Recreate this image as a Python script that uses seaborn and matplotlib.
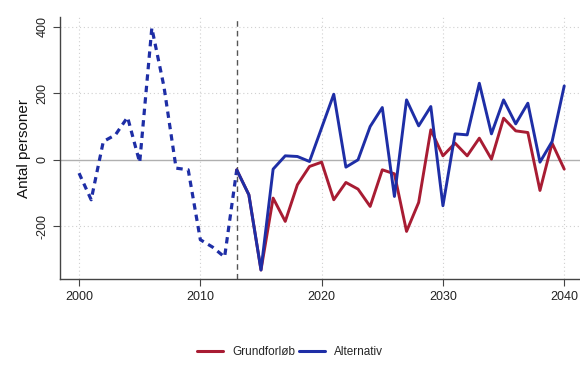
import numpy as np
import pandas as pd
import matplotlib
matplotlib.use("Agg")
import matplotlib.pyplot as plt
import seaborn as sns

# historical (dashed) series
hist_years = list(range(2000, 2014))
hist_values = [-40, -120, 55, 75, 128, -8, 396, 220, -25, -30, -240, -262, -292, -30]

# projections
proj_years = list(range(2013, 2041))
grund_values = [-30, -105, -331, -115, -185, -75, -20, -7, -120, -68, -88, -140,
                -30, -42, -215, -128, 90, 12, 50, 12, 65, 2, 125, 87, 82, -92, 50, -28]
alt_values = [-30, -105, -331, -28, 12, 10, -5, 96, 197, -22, 0, 100,
              157, -110, 180, 102, 160, -138, 78, 75, 230, 78, 180, 108, 170, -7, 55, 222]

series_names = ["Grundforløb", "Alternativ"]
colors = ["#A81C33", "#1E2EA6"]

sns.set_style("white")
plt.rcParams["font.family"] = ["Liberation Sans", "DejaVu Sans"]

proj = pd.DataFrame({
    "year": proj_years * 2,
    "value": grund_values + alt_values,
    "serie": [series_names[0]] * len(proj_years) + [series_names[1]] * len(proj_years),
})
hist = pd.DataFrame({"year": hist_years, "value": hist_values})

fig = plt.figure(figsize=(5.8, 3.72), dpi=100)
ax = fig.add_axes([60 / 580, 93 / 372, 520 / 580, 262 / 372])

for v in [-200, 200, 400]:
    ax.axhline(v, color="#d0d0d0", lw=0.8, ls=(0, (1, 2.5)), zorder=0)
for v in [2000, 2010, 2020, 2030, 2040]:
    ax.axvline(v, color="#d0d0d0", lw=0.8, ls=(0, (1, 2.5)), zorder=0)
ax.axhline(0, color="#b0b0b0", lw=1.0, zorder=1)
ax.axvline(2013, color="#555555", lw=1.0, ls=(0, (4, 3)), zorder=1)

sns.lineplot(data=hist, x="year", y="value", ax=ax, color=colors[1], lw=2.3,
             dashes=False, legend=False, zorder=3)
ax.lines[-1].set_linestyle((0, (2.0, 1.6)))

sns.lineplot(data=proj, x="year", y="value", hue="serie", hue_order=series_names,
             palette=colors, ax=ax, lw=2.1, legend=False, zorder=4)

ax.set_xlim(1998.43, 2041.3)
ax.set_ylim(-358, 429)
ax.set_xticks([2000, 2010, 2020, 2030, 2040])
ax.set_yticks([-200, 0, 200, 400])
ax.set_yticklabels(["-200", "0", "200", "400"], rotation=90, va="center")
ax.set_xlabel("")
ax.set_ylabel("Antal personer", fontsize=11, color="#111111")
ax.tick_params(axis="both", direction="out", length=5, width=0.8, color="#444444",
               labelsize=9, labelcolor="#222222", left=True, bottom=True)
for side in ["top", "right"]:
    ax.spines[side].set_visible(False)
for side in ["left", "bottom"]:
    ax.spines[side].set_color("#444444")
    ax.spines[side].set_linewidth(1.0)

handles = [plt.Line2D([], [], color=c, lw=2.2) for c in colors]
fig.legend(handles, series_names, loc="center", bbox_to_anchor=(0.5, 1 - 352 / 372),
           ncol=2, frameon=False, fontsize=8.5, handlelength=2.2, columnspacing=0.3,
           handletextpad=0.8)

fig.savefig("out.png", dpi=100)
